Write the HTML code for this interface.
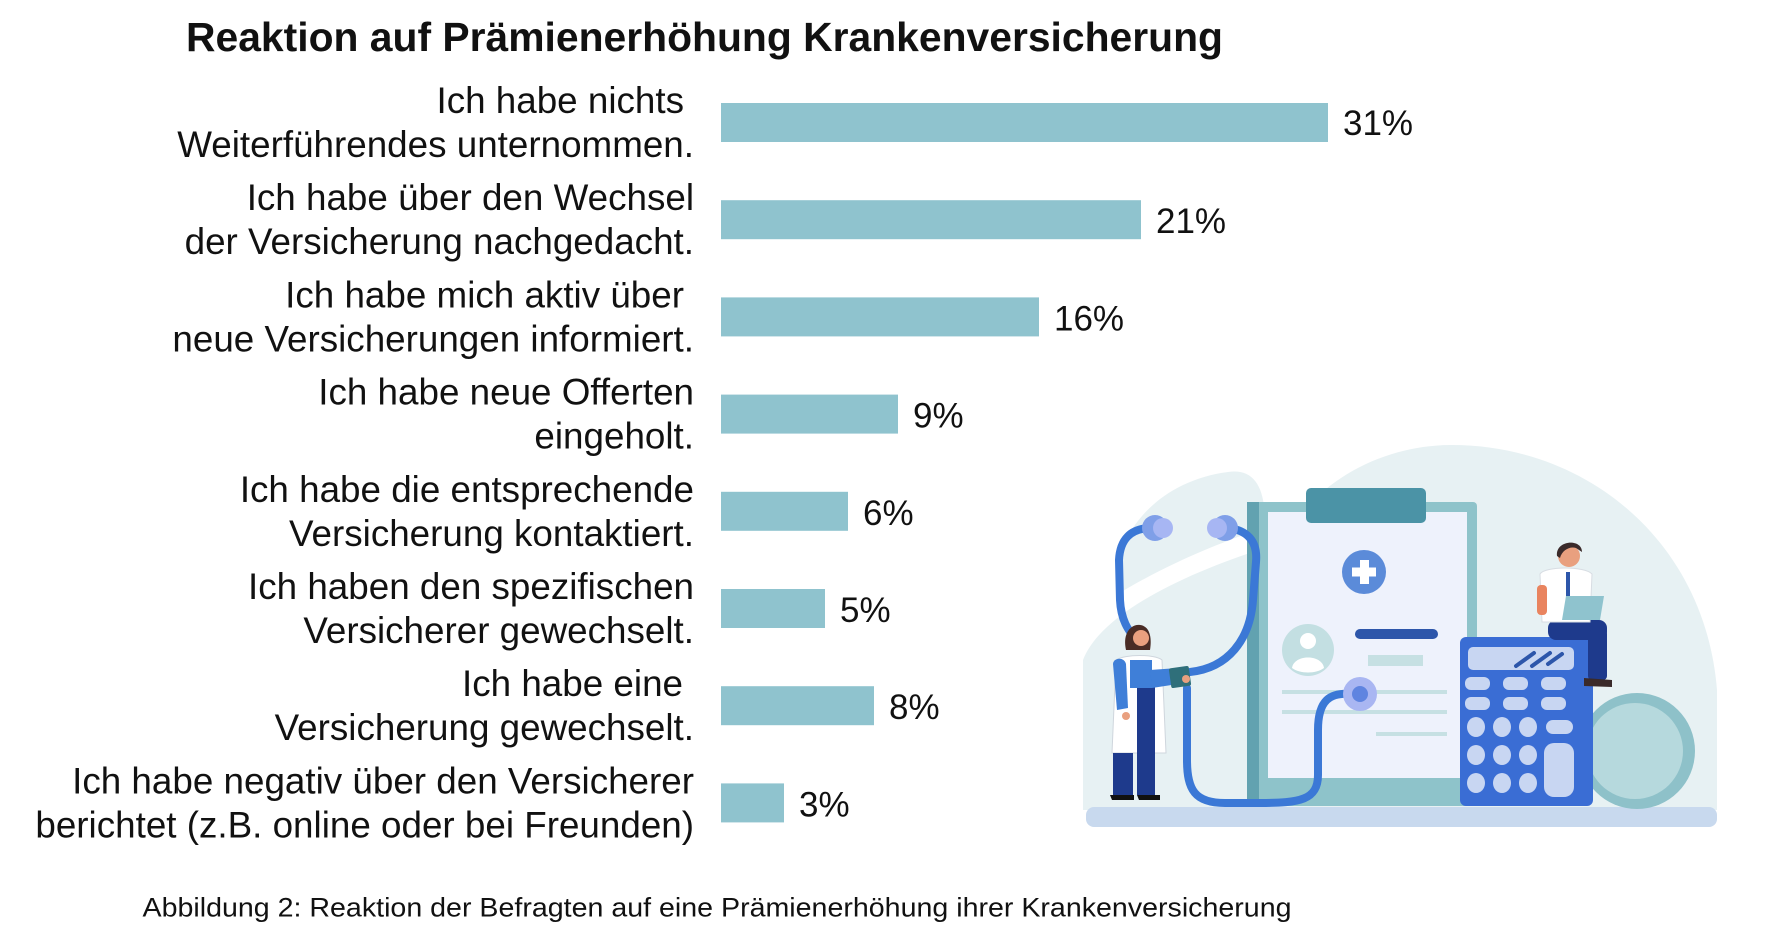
<!DOCTYPE html>
<html><head><meta charset="utf-8"><style>
html,body{margin:0;padding:0;background:#fff;}
body{width:1770px;height:932px;overflow:hidden;position:relative;}
svg{position:absolute;left:0;top:0;}
text{font-family:"Liberation Sans",Arial,sans-serif;fill:#111;}
.lb{font-size:36.8px;}
.vl{font-size:35px;}
</style></head><body>
<svg width="1770" height="932" viewBox="0 0 1770 932" xmlns="http://www.w3.org/2000/svg">
<text x="186" y="51" font-size="40.8" font-weight="bold" textLength="1037" lengthAdjust="spacingAndGlyphs">Reaktion auf Prämienerhöhung Krankenversicherung</text>

<!-- bars -->
<g fill="#8fc3ce">
<rect x="721" y="103" width="607" height="39"/>
<rect x="721" y="200.2" width="420" height="39"/>
<rect x="721" y="297.4" width="318" height="39"/>
<rect x="721" y="394.6" width="177" height="39"/>
<rect x="721" y="491.8" width="127" height="39"/>
<rect x="721" y="589" width="104" height="39"/>
<rect x="721" y="686.2" width="153" height="39"/>
<rect x="721" y="783.4" width="63" height="39"/>
</g>

<!-- value labels -->
<g class="vl">
<text x="1343" y="135">31%</text>
<text x="1156" y="233.2">21%</text>
<text x="1054" y="330.4">16%</text>
<text x="913" y="427.6">9%</text>
<text x="863" y="524.8">6%</text>
<text x="840" y="622">5%</text>
<text x="889" y="719.2">8%</text>
<text x="799" y="816.4">3%</text>
</g>

<!-- category labels -->
<g class="lb" text-anchor="end">
<text x="684" y="113">Ich habe nichts</text>
<text x="694" y="157">Weiterführendes unternommen.</text>
<text x="694" y="210.2">Ich habe über den Wechsel</text>
<text x="694" y="254.2">der Versicherung nachgedacht.</text>
<text x="684" y="307.4">Ich habe mich aktiv über</text>
<text x="694" y="351.4">neue Versicherungen informiert.</text>
<text x="694" y="404.6">Ich habe neue Offerten</text>
<text x="694" y="448.6">eingeholt.</text>
<text x="694" y="501.8">Ich habe die entsprechende</text>
<text x="694" y="545.8">Versicherung kontaktiert.</text>
<text x="694" y="599">Ich haben den spezifischen</text>
<text x="694" y="643">Versicherer gewechselt.</text>
<text x="683" y="696.2">Ich habe eine</text>
<text x="694" y="740.2">Versicherung gewechselt.</text>
<text x="694" y="793.4">Ich habe negativ über den Versicherer</text>
<text x="694" y="837.4">berichtet (z.B. online oder bei Freunden)</text>
</g>

<text x="142.5" y="916.5" font-size="26.5" textLength="1149" lengthAdjust="spacingAndGlyphs">Abbildung 2: Reaktion der Befragten auf eine Prämienerhöhung ihrer Krankenversicherung</text>

<!-- ILLUSTRATION -->
<path d="M1083 810 L1083 660 C1100 615 1180 575 1265 548 L1265 810 Z" fill="#e7f1f3"/>
<path d="M1118 594 C1108 545 1150 482 1228 472 C1256 468 1266 490 1265 528 C1225 540 1165 565 1118 594 Z" fill="#e7f1f3"/>
<path d="M1262 810 L1262 620 C1262 520 1350 446 1450 445 C1585 444 1705 540 1717 690 L1717 810 Z" fill="#e7f1f3"/>
<rect x="1086" y="807" width="631" height="20" rx="8" fill="#c8d9ee"/>

<rect x="1247" y="502" width="230" height="304" rx="4" fill="#8ec3ca"/>
<rect x="1247" y="502" width="12" height="304" fill="#62a2b0"/>
<rect x="1268" y="512" width="199" height="266" fill="#eef2fc"/>
<rect x="1306" y="488" width="120" height="35" rx="5" fill="#4b93a6"/>
<circle cx="1364" cy="572" r="22" fill="#5b8bd9"/>
<rect x="1360" y="560" width="9" height="24" fill="#fff"/>
<rect x="1352" y="567.5" width="24" height="9" fill="#fff"/>
<circle cx="1308" cy="650" r="26" fill="#c3dfe2"/>
<circle cx="1308" cy="641" r="8" fill="#fff"/>
<path d="M1292 668 C1294 654 1322 654 1324 668 C1316 674 1300 674 1292 668 Z" fill="#fff"/>
<rect x="1355" y="629" width="83" height="10" rx="5" fill="#2d56aa"/>
<rect x="1368" y="655" width="55" height="11" fill="#c6e0e3"/>
<rect x="1282" y="690" width="165" height="4" fill="#c6e0e3"/>
<rect x="1282" y="710" width="165" height="4" fill="#c6e0e3"/>
<rect x="1376" y="732" width="71" height="4" fill="#c6e0e3"/>

<g fill="none" stroke="#3b78d6" stroke-width="8" stroke-linecap="round">
<path d="M1352 694 C1330 692 1318 700 1318 730 L1318 775 C1318 800 1300 803 1260 803 L1225 803 C1195 803 1187 790 1187 760 L1187 688"/>
<path d="M1190 672 C1228 668 1250 640 1253 600 L1256 562 C1258 540 1246 530 1228 528"/>
<path d="M1152 528 C1130 528 1120 540 1119 560 L1120 600 C1121 620 1128 630 1136 640"/>
</g>
<circle cx="1360" cy="694" r="17" fill="#a9b6f2"/>
<circle cx="1360" cy="694" r="8" fill="#5f84e0"/>
<circle cx="1155" cy="528" r="13" fill="#7f9fe8"/>
<circle cx="1163" cy="528" r="10" fill="#a7b6f3"/>
<circle cx="1225" cy="528" r="13" fill="#7f9fe8"/>
<circle cx="1217" cy="528" r="10" fill="#a7b6f3"/>

<path d="M1112 753 L1116 660 C1125 654 1155 654 1162 660 L1166 753 Z" fill="#fff" stroke="#cfd6dd" stroke-width="1"/>
<rect x="1113" y="753" width="20" height="42" fill="#1e3a8c"/>
<rect x="1137" y="686" width="18" height="109" fill="#1e3a8c"/>
<rect x="1130" y="660" width="22" height="28" fill="#3f7fd8"/>
<path d="M1113 664 C1113 658 1124 656 1126 664 L1128 708 L1117 710 Z" fill="#3f7fd8"/>
<path d="M1150 670 L1178 668 L1178 684 L1152 688 Z" fill="#3f7fd8"/>
<rect x="1170" y="667" width="20" height="20" rx="2" fill="#2f6f7a" transform="rotate(-8 1180 677)"/>
<circle cx="1186" cy="679" r="4" fill="#e9a07f"/>
<circle cx="1126" cy="716" r="4" fill="#e9a07f"/>
<path d="M1126 650 C1122 632 1132 624 1140 625 C1150 626 1152 638 1150 650 Z" fill="#4a2c25"/>
<circle cx="1141" cy="638" r="8" fill="#e9a07f"/>
<path d="M1110 795 L1134 795 L1134 800 L1112 800 Z" fill="#111"/>
<path d="M1137 795 L1160 795 L1160 800 L1139 800 Z" fill="#111"/>

<circle cx="1637" cy="751" r="58" fill="#8ec1c9"/>
<circle cx="1635" cy="751" r="48" fill="#b6d9dd"/>

<rect x="1460" y="637" width="133" height="169" rx="6" fill="#3a6dd4"/>
<rect x="1468" y="647" width="106" height="23" rx="5" fill="#c8d6f2"/>
<g stroke="#2d56aa" stroke-width="4" stroke-linecap="round">
<line x1="1516" y1="666" x2="1534" y2="653"/>
<line x1="1532" y1="666" x2="1550" y2="653"/>
<line x1="1548" y1="664" x2="1562" y2="654"/>
</g>
<g fill="#c8d6f2">
<rect x="1465" y="677" width="25" height="13" rx="6"/>
<rect x="1503" y="677" width="25" height="13" rx="6"/>
<rect x="1541" y="677" width="25" height="13" rx="6"/>
<rect x="1465" y="697" width="25" height="13" rx="6"/>
<rect x="1503" y="697" width="25" height="13" rx="6"/>
<rect x="1541" y="697" width="25" height="13" rx="6"/>
<ellipse cx="1476" cy="727" rx="9" ry="10"/>
<ellipse cx="1502" cy="727" rx="9" ry="10"/>
<ellipse cx="1528" cy="727" rx="9" ry="10"/>
<rect x="1546" y="720" width="27" height="14" rx="7"/>
<ellipse cx="1476" cy="755" rx="9" ry="10"/>
<ellipse cx="1502" cy="755" rx="9" ry="10"/>
<ellipse cx="1528" cy="755" rx="9" ry="10"/>
<ellipse cx="1476" cy="783" rx="9" ry="10"/>
<ellipse cx="1502" cy="783" rx="9" ry="10"/>
<ellipse cx="1528" cy="783" rx="9" ry="10"/>
<rect x="1544" y="743" width="30" height="54" rx="10"/>
</g>

<rect x="1548" y="620" width="59" height="20" rx="8" fill="#1e3a8c"/>
<rect x="1588" y="630" width="19" height="50" rx="4" fill="#1e3a8c"/>
<path d="M1584 678 L1612 680 L1612 687 L1584 686 Z" fill="#3a2a2a"/>
<path d="M1540 574 C1545 566 1585 566 1592 574 L1590 622 L1542 622 Z" fill="#fff" stroke="#d8dde3" stroke-width="1"/>
<rect x="1566" y="572" width="4" height="28" fill="#2d56aa"/>
<rect x="1537" y="585" width="10" height="30" rx="4" fill="#e9845f"/>
<path d="M1566 596 L1604 596 L1600 620 L1562 620 Z" fill="#8fc3ce"/>
<circle cx="1569" cy="556" r="11" fill="#e9a07f"/>
<path d="M1557 556 C1555 540 1582 538 1582 552 L1576 548 C1570 546 1562 550 1560 558 Z" fill="#3a2a2a"/>
</svg>
</body></html>
